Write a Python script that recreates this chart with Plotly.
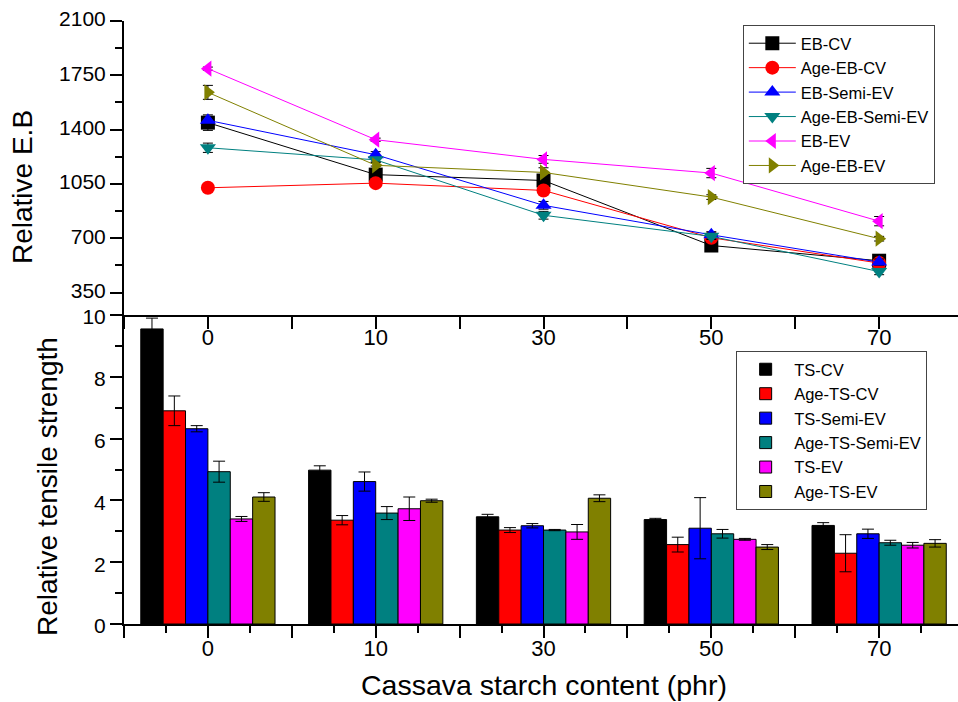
import plotly.graph_objects as go

# ---------------- data ----------------
categories = ["0", "10", "30", "50", "70"]

eb_names = ["EB-CV", "Age-EB-CV", "EB-Semi-EV", "Age-EB-Semi-EV", "EB-EV", "Age-EB-EV"]
eb_cv = [1445, 1110, 1072, 653, 555]
age_eb_cv = [1025, 1055, 1008, 703, 540]
eb_semi_ev = [1460, 1238, 912, 722, 546]
age_eb_semi_ev = [1283, 1205, 848, 712, 485]
eb_ev = [1793, 1335, 1208, 1120, 810]
age_eb_ev = [1640, 1170, 1124, 965, 697]

eb_cv_err = [50, 55, 35, 15, 25]
age_eb_cv_err = [5, 5, 10, 5, 10]
eb_semi_ev_err = [25, 20, 25, 20, 20]
age_eb_semi_ev_err = [30, 15, 25, 20, 20]
eb_ev_err = [10, 10, 25, 30, 30]
age_eb_ev_err = [45, 20, 30, 15, 15]

ts_names = ["TS-CV", "Age-TS-CV", "TS-Semi-EV", "Age-TS-Semi-EV", "TS-EV", "Age-TS-EV"]
ts_cv = [9.55, 4.98, 3.47, 3.38, 3.19]
age_ts_cv = [6.90, 3.36, 3.04, 2.57, 2.29]
ts_semi_ev = [6.32, 4.61, 3.18, 3.10, 2.92]
age_ts_semi_ev = [4.93, 3.59, 3.04, 2.92, 2.63]
ts_ev = [3.40, 3.73, 2.98, 2.74, 2.55]
age_ts_ev = [4.11, 3.99, 4.07, 2.49, 2.61]

ts_cv_err = [0.35, 0.14, 0.08, 0.04, 0.09]
age_ts_cv_err = [0.48, 0.15, 0.08, 0.24, 0.60]
ts_semi_ev_err = [0.10, 0.31, 0.07, 0.99, 0.15]
age_ts_semi_ev_err = [0.34, 0.21, 0.02, 0.14, 0.08]
ts_ev_err = [0.08, 0.38, 0.24, 0.03, 0.09]
age_ts_ev_err = [0.14, 0.05, 0.11, 0.08, 0.12]

eb_yticks = [350, 700, 1050, 1400, 1750, 2100]
eb_yminor = [525, 875, 1225, 1575, 1925]
ts_yticks = [0, 2, 4, 6, 8, 10]
ts_yminor = [1, 3, 5, 7, 9]

# ---------------- styles ----------------
colors = ["#000000", "#FF0000", "#0000FF", "#008080", "#FF00FF", "#808000"]
symbols = ["square", "circle", "triangle-up", "triangle-down", "triangle-left", "triangle-right"]
FONT = "Liberation Sans, Arial, sans-serif"

pos = list(range(len(categories)))
xr = [-0.5, len(categories) - 0.53]
half_ticks = [i * 0.5 - 0.5 for i in range(2 * len(categories))]
half_text = [categories[int(v)] if float(v).is_integer() else "" for v in half_ticks]
quarter_ticks = [v + 0.25 for v in half_ticks]

fig = go.Figure()

eb_series = [eb_cv, age_eb_cv, eb_semi_ev, age_eb_semi_ev, eb_ev, age_eb_ev]
eb_errs = [eb_cv_err, age_eb_cv_err, eb_semi_ev_err, age_eb_semi_ev_err, eb_ev_err, age_eb_ev_err]
for name, vals, errs, c, s in zip(eb_names, eb_series, eb_errs, colors, symbols):
    fig.add_trace(go.Scatter(
        x=pos, y=vals, name=name, mode="lines+markers",
        xaxis="x", yaxis="y", legend="legend",
        line=dict(color=c, width=1),
        marker=dict(symbol=s, size=14, color=c, line=dict(width=0)),
        error_y=dict(type="data", array=errs, color="black", thickness=1, width=5),
    ))

ts_series = [ts_cv, age_ts_cv, ts_semi_ev, age_ts_semi_ev, ts_ev, age_ts_ev]
ts_errs = [ts_cv_err, age_ts_cv_err, ts_semi_ev_err, age_ts_semi_ev_err, ts_ev_err, age_ts_ev_err]
for name, vals, errs, c in zip(ts_names, ts_series, ts_errs, colors):
    fig.add_trace(go.Bar(
        x=pos, y=vals, name=name, xaxis="x2", yaxis="y2", legend="legend2",
        marker=dict(color=c, line=dict(color="black", width=1)),
        error_y=dict(type="data", array=errs, color="black", thickness=1, width=6),
    ))

split = 0.5124
axis_common = dict(showgrid=False, zeroline=False, linecolor="black", linewidth=2,
                   tickcolor="black", tickwidth=2,
                   tickfont=dict(family=FONT, size=22, color="black"))
yfont = dict(family=FONT, size=21, color="black")

fig.update_layout(
    width=958, height=702,
    margin=dict(l=124, r=0, t=21, b=78),
    paper_bgcolor="white", plot_bgcolor="white",
    font=dict(family=FONT, color="black"),
    barmode="group", bargap=0.2, bargroupgap=0,
    xaxis=dict(axis_common, anchor="y", domain=[0, 1], range=xr,
               tickmode="array", tickvals=half_ticks, ticktext=half_text,
               ticks="outside", ticklen=12, showline=True, ticklabelstandoff=-10),
    xaxis3=dict(axis_common, anchor="y", overlaying="x", side="top", range=xr,
                tickmode="array", tickvals=half_ticks, showticklabels=False,
                ticks="inside", ticklen=12, showline=True),
    yaxis=dict(axis_common, anchor="x", domain=[split, 1], range=[205, 2100],
               tickmode="array", tickvals=eb_yticks, ticks="outside", ticklen=12,
               showline=True, tickfont=yfont, ticklabelshift=-2,
               minor=dict(tickvals=eb_yminor, ticks="outside", ticklen=7,
                          tickcolor="black", tickwidth=2)),
    yaxis3=dict(axis_common, anchor="x", overlaying="y", side="right", range=[205, 2100],
                tickmode="array", tickvals=eb_yticks, ticks="inside", ticklen=12,
                showticklabels=False, showline=False,
                minor=dict(tickvals=eb_yminor, ticks="inside", ticklen=7,
                           tickcolor="black", tickwidth=2)),
    xaxis2=dict(axis_common, anchor="y2", domain=[0, 1], range=xr,
                tickmode="array", tickvals=half_ticks, ticktext=half_text,
                ticks="outside", ticklen=12, showline=True, ticklabelstandoff=-8,
                minor=dict(tickvals=quarter_ticks, ticks="outside", ticklen=7,
                           tickcolor="black", tickwidth=2)),
    yaxis2=dict(axis_common, anchor="x2", domain=[0, split], range=[0, 10],
                tickmode="array", tickvals=ts_yticks, ticks="outside", ticklen=12,
                showline=True, tickfont=yfont, ticklabelshift=2,
                minor=dict(tickvals=ts_yminor, ticks="outside", ticklen=7,
                           tickcolor="black", tickwidth=2)),
    yaxis4=dict(axis_common, anchor="x2", overlaying="y2", side="right", range=[0, 10],
                tickmode="array", tickvals=ts_yticks, ticks="inside", ticklen=12,
                showticklabels=False, showline=False,
                minor=dict(tickvals=ts_yminor, ticks="inside", ticklen=7,
                           tickcolor="black", tickwidth=2)),
    legend=dict(x=0.742, y=0.9934, xanchor="left", yanchor="top",
                bgcolor="white", bordercolor="#444", borderwidth=1, itemwidth=47,
                font=dict(family=FONT, size=16.5, color="black"), tracegroupgap=0),
    legend2=dict(x=0.734, y=0.4527, xanchor="left", yanchor="top",
                 bgcolor="white", bordercolor="#444", borderwidth=1, itemwidth=47,
                 font=dict(family=FONT, size=16.5, color="black"), tracegroupgap=0),
    annotations=[
        dict(text="Relative E.B", xref="paper", yref="paper", x=-0.1223, y=0.7247,
             xanchor="center", yanchor="middle", textangle=-90, showarrow=False,
             font=dict(family=FONT, size=28, color="black")),
        dict(text="Relative tensile strength", xref="paper", yref="paper", x=-0.0911, y=0.2272,
             xanchor="center", yanchor="middle", textangle=-90, showarrow=False,
             font=dict(family=FONT, size=28, color="black")),
        dict(text="Cassava starch content (phr)", xref="paper", yref="paper", x=0.5036, y=-0.1012,
             xanchor="center", yanchor="middle", showarrow=False,
             font=dict(family=FONT, size=28.5, color="black")),
    ],
)

fig.write_html("out.html")
